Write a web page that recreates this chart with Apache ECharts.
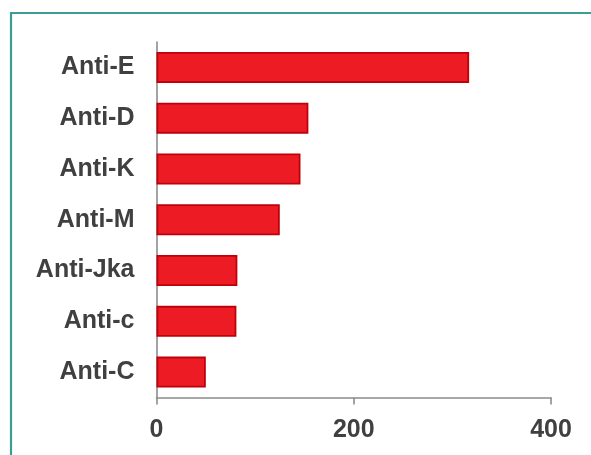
<!DOCTYPE html>
<html>
<head>
<meta charset="utf-8">
<script src="https://cdn.jsdelivr.net/npm/echarts@6/dist/echarts.min.js"></script>
<style>
  html, body { margin: 0; padding: 0; background: #fff; }
  #chart { width: 591px; height: 455px; }
</style>
</head>
<body>
<div id="chart"></div>
<script>
// Antibody specificities and their counts
const categories = ['Anti-E', 'Anti-D', 'Anti-K', 'Anti-M', 'Anti-Jka', 'Anti-c', 'Anti-C'];
const counts = [317, 154, 146, 125, 82, 81, 50];
const xTicks = [0, 200, 400];

const labelFont = {
  fontFamily: '"Liberation Sans", Arial, sans-serif',
  fontWeight: 'bold',
  fontSize: 25,
  color: '#404040'
};

const chart = echarts.init(document.getElementById('chart'), null, { renderer: 'canvas' });
chart.setOption({
  animation: false,
  backgroundColor: '#ffffff',
  graphic: [{
    type: 'rect',
    shape: { x: 11, y: 13, width: 700, height: 600 },
    style: { fill: 'none', stroke: '#3b9d95', lineWidth: 2.2 },
    silent: true
  }],
  grid: { left: 156.5, right: 40, top: 42, bottom: 57.5, containLabel: false },
  xAxis: {
    type: 'value',
    min: xTicks[0],
    max: xTicks[xTicks.length - 1],
    interval: xTicks[1] - xTicks[0],
    splitLine: { show: false },
    axisLine: { show: true, lineStyle: { color: '#8c8c8c', width: 1.6 } },
    axisTick: { show: true, length: 7, lineStyle: { color: '#8c8c8c', width: 1.6 } },
    axisLabel: Object.assign({ margin: 20 }, labelFont)
  },
  yAxis: {
    type: 'category',
    data: categories,
    inverse: true,
    axisLine: { show: true, lineStyle: { color: '#8c8c8c', width: 1.6 } },
    axisTick: { show: false },
    axisLabel: Object.assign({ margin: 22 }, labelFont)
  },
  series: [{
    type: 'bar',
    data: counts,
    barCategoryGap: '39%',
    itemStyle: { color: '#ed1c24', borderColor: '#c0000a', borderWidth: 1.8 }
  }]
});
</script>
</body>
</html>
